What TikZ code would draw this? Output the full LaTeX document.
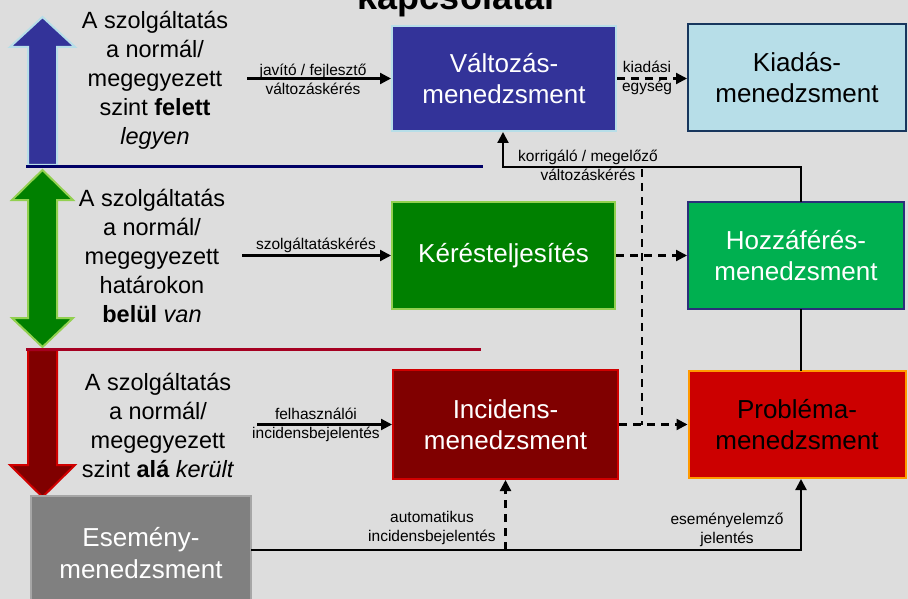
\documentclass[tikz,border=0pt]{standalone}
\usepackage{fontspec}
\setmainfont{Liberation Sans}
\usetikzlibrary{arrows.meta}
\definecolor{bgc}{HTML}{DDDDDD}
\definecolor{chgblue}{HTML}{333399}
\definecolor{paleblue}{HTML}{B7DEE8}
\definecolor{navyline}{HTML}{000066}
\definecolor{okgreen}{HTML}{008000}
\definecolor{limeedge}{HTML}{92D050}
\definecolor{brightgreen}{HTML}{00B050}
\definecolor{maroon}{HTML}{800000}
\definecolor{redge}{HTML}{D00000}
\definecolor{crimson}{HTML}{A50021}
\definecolor{probred}{HTML}{CC0000}
\definecolor{orangeedge}{HTML}{FF9900}
\definecolor{deepnavy}{HTML}{17365D}
\definecolor{hozedge}{HTML}{2B2F7A}
\definecolor{evgray}{HTML}{808080}
\definecolor{evedge}{HTML}{A6A6A6}
\tikzset{
  procbox/.style={draw, line width=2pt, inner sep=0pt, align=center,
    font=\fontsize{26}{31.5}\selectfont},
  sidetext/.style={align=center, inner sep=0pt,
    font=\fontsize{23.5}{29}\selectfont},
  lbl/.style={align=center, inner sep=0pt,
    font=\fontsize{15.5}{19}\selectfont},
  conn/.style={line width=2.2pt, -{Triangle[length=11pt,width=11pt]}},
  dconn/.style={conn, dash pattern=on 8pt off 6pt},
  dline/.style={line width=2.2pt, dash pattern=on 8pt off 6pt},
  sline/.style={line width=2.2pt},
  blockarrow/.style={line width=2pt, line join=miter},
}
\begin{document}
\begin{tikzpicture}[x=1pt,y=-1pt]
  \clip (0,0) rectangle (908,599);
  \fill[bgc] (0,0) rectangle (908,599);

  % heading, mostly above the page edge
  \node[anchor=base, inner sep=0pt, font=\bfseries\fontsize{36}{40}\selectfont] (title) at (456,10) {kapcsolatai};

  % level arrows on the left
  \draw[blockarrow, fill=chgblue, draw=paleblue]
    (28,165) -- (28,47) -- (10,47) -- (42.5,17) -- (75,47) -- (57,47) -- (57,165) -- cycle;
  \draw[blockarrow, fill=okgreen, draw=limeedge]
    (42.5,170) -- (73,200) -- (57,200) -- (57,318) -- (73,318) -- (42.5,347)
    -- (12,318) -- (28,318) -- (28,200) -- (12,200) -- cycle;
  \draw[blockarrow, fill=maroon, draw=redge]
    (28,350) -- (57,350) -- (57,465) -- (75,465) -- (42.5,497) -- (10,465) -- (28,465) -- cycle;

  % level separators
  \draw[navyline, line width=3pt] (26,167) -- (483,167);
  \draw[crimson, line width=3pt] (26,349) -- (481,349);

  % level descriptions
  \node[sidetext] (lvlup) at (155,80)
    {A szolgáltatás\\a normál/\\megegyezett\\szint \textbf{felett}\\\textit{legyen}};
  \node[sidetext] (lvlok) at (152,255.5)
    {A szolgáltatás\\a normál/\\megegyezett\\határokon\\\textbf{belül} \textit{van}};
  \node[sidetext] (lvldown) at (158,425.5)
    {A szolgáltatás\\a normál/\\megegyezett\\szint \textbf{alá} \textit{került}};

  % process boxes
  \node[procbox, fill=chgblue, draw=paleblue, text=white,
        minimum width=224pt, minimum height=105pt] (valt) at (504,78.5)
    {Változás-\\menedzsment};
  \node[procbox, fill=paleblue, draw=deepnavy, text=black,
        minimum width=218pt, minimum height=107pt] (kiad) at (797,77.5)
    {Kiadás-\\menedzsment};
  \node[procbox, fill=okgreen, draw=limeedge, text=white,
        minimum width=223pt, minimum height=107pt] (ker) at (503.5,255.5)
    {Kérésteljesítés};
  \node[procbox, fill=brightgreen, draw=hozedge, text=white,
        minimum width=216pt, minimum height=107pt] (hoz) at (796,255.5)
    {Hozzáférés-\\menedzsment};
  \node[procbox, fill=maroon, draw=redge, text=white,
        minimum width=225pt, minimum height=109pt] (inc) at (505.5,424.5)
    {Incidens-\\menedzsment};
  \node[procbox, fill=probred, draw=orangeedge, text=black,
        minimum width=217pt, minimum height=107pt] (prob) at (797,424.5)
    {Probléma-\\menedzsment};
  \node[procbox, fill=evgray, draw=evedge, text=white,
        minimum width=220pt, minimum height=114pt] (esem) at (141,553)
    {Esemény-\\menedzsment};

  % incoming requests
  \coordinate (javstart) at (247,78.5);
  \draw[conn] (javstart) -- (valt.west);
  \node[lbl] (javlbl) at (313,79.5) {javító / fejlesztő\\változáskérés};

  \coordinate (szstart) at (242,255.5);
  \draw[conn] (szstart) -- (ker.west);
  \node[lbl] (szlbl) at (316,245) {szolgáltatáskérés};

  \coordinate (festart) at (257,424.5);
  \draw[conn] (festart) -- (inc.west);
  \node[lbl] (felbl) at (316,424.5) {felhasználói\\incidensbejelentés};

  % release unit
  \draw[dconn] (valt.east) -- (kiad.west |- valt.east);
  \node[lbl] (kilbl) at (647,78) {kiadási\\egység};

  % corrective / preventive change request
  \coordinate (korcorner) at (503,167);
  \coordinate (probtop) at (801,371);
  \coordinate (hozbot) at (801,309);
  \coordinate (hoztop) at (801,202);
  \draw[sline] (probtop) -- (hozbot);
  \draw[conn] (hoztop) |- (korcorner) -- (korcorner |- valt.south);
  \node[lbl] (korlbl) at (588,165.5) {korrigáló / megelőző\\változáskérés};
  \coordinate (dashtop) at (642,169);
  \draw[dline] (dashtop) -- (dashtop |- inc.east);

  % escalation to access and problem management
  \draw[dconn] (ker.east) -- (hoz.west |- ker.east);
  \draw[dconn] (inc.east) -- (prob.west |- inc.east);

  % event management outputs
  \coordinate (evline) at (251,550);
  \coordinate (evprob) at (801,550);
  \draw[conn] (evline) -- (evprob) -- (evprob |- prob.south);
  \draw[dconn] (inc.south |- evline) -- (inc.south);
  \node[lbl] (autlbl) at (432,527.5) {automatikus\\incidensbejelentés};
  \node[lbl] (evlbl) at (727,529.5) {eseményelemző\\jelentés};
\end{tikzpicture}
\end{document}
